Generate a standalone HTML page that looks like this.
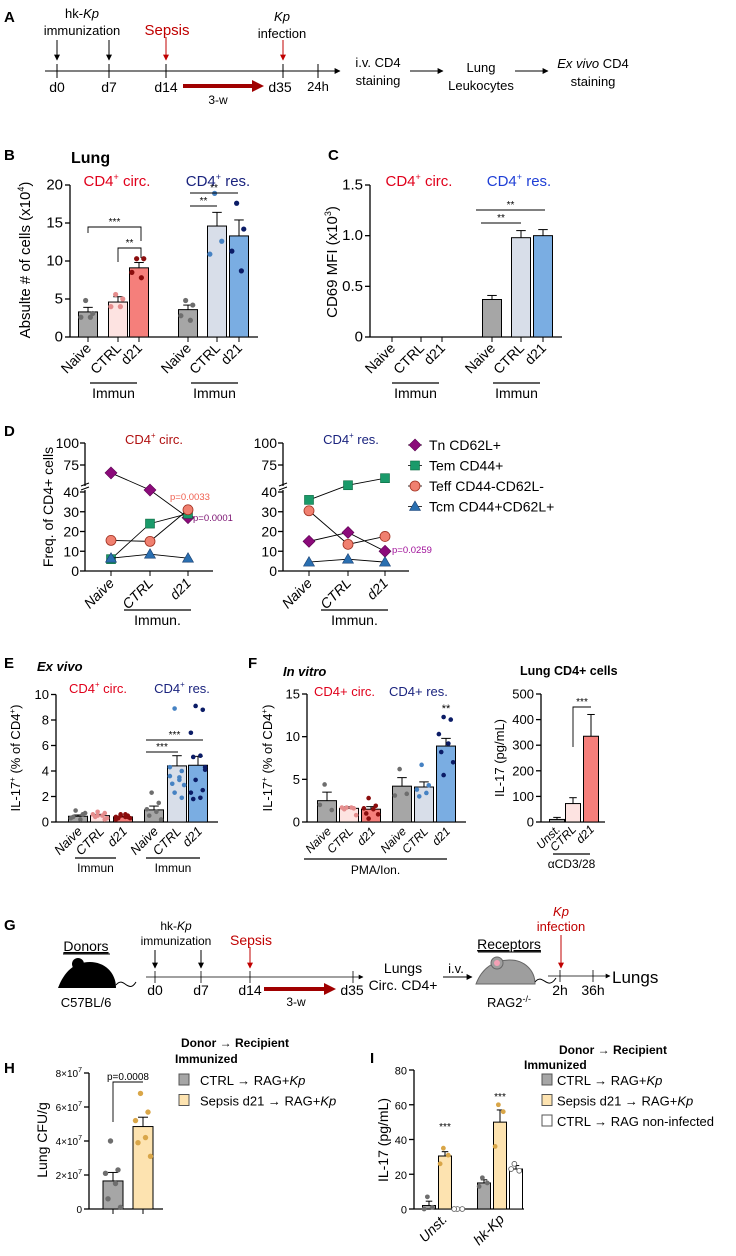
<!DOCTYPE html>
<html><head><meta charset="utf-8">
<style>
html,body{margin:0;padding:0;background:#fff}
svg{display:block;font-family:"Liberation Sans",sans-serif}
text{fill:#000}
</style></head>
<body>
<svg id="fig" width="736" height="1256" viewBox="0 0 736 1256" xmlns="http://www.w3.org/2000/svg">
<defs>
<marker id="ah" viewBox="0 0 10 10" refX="9" refY="5" markerWidth="6" markerHeight="6" orient="auto"><path d="M0,0L10,5L0,10z" fill="#000"/></marker>
<marker id="ahr" viewBox="0 0 10 10" refX="9" refY="5" markerWidth="6" markerHeight="6" orient="auto"><path d="M0,0L10,5L0,10z" fill="#c00000"/></marker>
<marker id="ahb" viewBox="0 0 10 10" refX="5" refY="5" markerWidth="3" markerHeight="3" orient="auto"><path d="M0,0L10,5L0,10z" fill="#a00000"/></marker>
</defs>

<!-- Panel A -->
<g font-size="13">
<text x="4" y="22" font-weight="bold" font-size="15">A</text>
<line x1="45" y1="71" x2="340" y2="71" stroke="#000" marker-end="url(#ah)"/>
<g stroke="#000"><line x1="57" y1="64" x2="57" y2="78"/><line x1="109" y1="64" x2="109" y2="78"/><line x1="166" y1="64" x2="166" y2="78"/><line x1="283" y1="64" x2="283" y2="78"/><line x1="318" y1="64" x2="318" y2="78"/></g>
<line x1="57" y1="40" x2="57" y2="60" stroke="#000" marker-end="url(#ah)"/>
<line x1="109" y1="40" x2="109" y2="60" stroke="#000" marker-end="url(#ah)"/>
<line x1="166" y1="37" x2="166" y2="60" stroke="#c00000" marker-end="url(#ahr)"/>
<line x1="283" y1="40" x2="283" y2="60" stroke="#c00000" marker-end="url(#ahr)"/>
<text x="82" y="18" text-anchor="middle">hk-<tspan font-style="italic">Kp</tspan></text>
<text x="82" y="35" text-anchor="middle">immunization</text>
<text x="167" y="35" text-anchor="middle" fill="#c00000" style="fill:#c00000" font-size="15">Sepsis</text>
<text x="282" y="21" text-anchor="middle" font-style="italic">Kp</text>
<text x="282" y="38" text-anchor="middle">infection</text>
<text x="57" y="92" text-anchor="middle" font-size="14">d0</text>
<text x="109" y="92" text-anchor="middle" font-size="14">d7</text>
<text x="166" y="92" text-anchor="middle" font-size="14">d14</text>
<text x="280" y="92" text-anchor="middle" font-size="14">d35</text>
<text x="318" y="91" text-anchor="middle">24h</text>
<line x1="183" y1="86" x2="258" y2="86" stroke="#a00000" stroke-width="4" marker-end="url(#ahb)"/>
<text x="218" y="104" text-anchor="middle" font-size="12">3-w</text>
<text x="378" y="67" text-anchor="middle">i.v. CD4</text><text x="378" y="85" text-anchor="middle">staining</text>
<line x1="410" y1="71" x2="443" y2="71" stroke="#000" marker-end="url(#ah)"/>
<text x="481" y="72" text-anchor="middle">Lung</text><text x="481" y="90" text-anchor="middle">Leukocytes</text>
<line x1="515" y1="71" x2="548" y2="71" stroke="#000" marker-end="url(#ah)"/>
<text x="593" y="68" text-anchor="middle"><tspan font-style="italic">Ex vivo</tspan> CD4</text><text x="593" y="86" text-anchor="middle">staining</text>
</g>

<g id="charts"></g>

<!-- Panel G -->
<g font-size="13">
<text x="4" y="930" font-weight="bold" font-size="15">G</text>
<text x="86" y="951" text-anchor="middle" font-size="14" text-decoration="underline">Donors</text>
<line x1="63" y1="954" x2="110" y2="954" stroke="#000"/>
<g>
<path d="M58,988 C64,972 74,962 90,962 C104,962 116,972 116,988 Z" fill="#000"/>
<circle cx="78" cy="964" r="6" fill="#000"/><circle cx="62" cy="986" r="2" fill="#000"/>
<path d="M116,985 C124,975 128,995 136,982" stroke="#000" fill="none"/>
</g>
<text x="86" y="1007" text-anchor="middle">C57BL/6</text>
<line x1="146" y1="977" x2="363" y2="977" stroke="#000" stroke-width="0.8" marker-end="url(#ah)"/>
<g stroke="#000" stroke-width="0.8"><line x1="155" y1="971" x2="155" y2="983"/><line x1="201" y1="971" x2="201" y2="983"/><line x1="250" y1="971" x2="250" y2="983"/><line x1="353" y1="971" x2="353" y2="983"/></g>
<line x1="155" y1="950" x2="155" y2="968" stroke="#000" marker-end="url(#ah)"/>
<line x1="201" y1="950" x2="201" y2="968" stroke="#000" marker-end="url(#ah)"/>
<line x1="250" y1="947" x2="250" y2="968" stroke="#c00000" marker-end="url(#ahr)"/>
<text x="176" y="930" text-anchor="middle" font-size="12">hk-<tspan font-style="italic">Kp</tspan></text>
<text x="176" y="945" text-anchor="middle" font-size="12">immunization</text>
<text x="251" y="945" text-anchor="middle" style="fill:#c00000" font-size="14">Sepsis</text>
<text x="155" y="995" text-anchor="middle" font-size="14">d0</text>
<text x="201" y="995" text-anchor="middle" font-size="14">d7</text>
<text x="250" y="995" text-anchor="middle" font-size="14">d14</text>
<text x="352" y="995" text-anchor="middle" font-size="14">d35</text>
<line x1="264" y1="989" x2="330" y2="989" stroke="#a00000" stroke-width="4" marker-end="url(#ahb)"/>
<text x="296" y="1006" text-anchor="middle" font-size="12">3-w</text>
<text x="403" y="973" text-anchor="middle" font-size="14">Lungs</text>
<text x="403" y="990" text-anchor="middle" font-size="14">Circ. CD4+</text>
<text x="456" y="973" text-anchor="middle">i.v.</text>
<line x1="443" y1="977" x2="472" y2="977" stroke="#000" marker-end="url(#ah)"/>
<text x="509" y="949" text-anchor="middle" font-size="14" text-decoration="underline">Receptors</text>
<line x1="478" y1="952" x2="541" y2="952" stroke="#000"/>
<g>
<path d="M476,984 C482,968 494,960 510,960 C524,960 535,970 535,984 Z" fill="#9e9e9e" stroke="#666"/>
<circle cx="497" cy="963" r="6" fill="#9e9e9e" stroke="#666"/><circle cx="497" cy="963" r="3" fill="#f3a0b5"/>
<path d="M535,982 C543,972 547,992 556,978" stroke="#000" fill="none"/>
</g>
<text x="509" y="1007" text-anchor="middle">RAG2<tspan font-size="9" dy="-5">-/-</tspan></text>
<text x="561" y="916" text-anchor="middle" font-style="italic" style="fill:#c00000">Kp</text>
<text x="561" y="931" text-anchor="middle" style="fill:#c00000">infection</text>
<line x1="561" y1="935" x2="561" y2="968" stroke="#c00000" marker-end="url(#ahr)"/>
<line x1="548" y1="976" x2="610" y2="976" stroke="#000" stroke-width="0.8" marker-end="url(#ah)"/>
<line x1="560" y1="970" x2="560" y2="982" stroke="#000" stroke-width="0.8"/><line x1="593" y1="970" x2="593" y2="982" stroke="#000" stroke-width="0.8"/>
<text x="560" y="995" text-anchor="middle" font-size="14">2h</text>
<text x="593" y="995" text-anchor="middle" font-size="14">36h</text>
<text x="612" y="983" font-size="17">Lungs</text>
</g>
</svg>

<script>
// ===== Data =====
const bCategories = ["Naive","CTRL","d21","Naive","CTRL","d21"];
const bMeans = [3.3, 4.6, 9.1, 3.6, 14.6, 13.3];
const bErrors = [0.6, 0.7, 0.7, 0.6, 1.8, 2.1];
const bDots = [[4.8,3.1,2.6,2.6],[5.6,5.0,4.0,4.0],[10.3,10.3,8.5,7.8],[4.8,4.2,2.8,2.2],[18.9,12.6,10.9],[17.6,14.2,11.3,8.7]];
const bTicks = [0,5,10,15,20];

const cMeans = [0, 0, 0, 0.37, 0.98, 1.0];
const cErrors = [0, 0, 0, 0.04, 0.07, 0.06];
const cTicks = [0, 0.5, 1.0, 1.5];
const cTickLabels = ["0","0.5","1.0","1.5"];

const dTicks = [0,10,20,30,40,75,100];
const dCatLabels = ["Naive","CTRL","d21"];
const dCircTn = [66, 41, 27];
const dCircTem = [6, 24, 29];
const dCircTeff = [15.5, 15, 31];
const dCircTcm = [6.5, 8.5, 6.5];
const dResTn = [15, 19.5, 10];
const dResTem = [36, 52, 60];
const dResTeff = [30.5, 13.5, 17.5];
const dResTcm = [4.5, 6, 4.5];
const dSeriesNames = ["Tn CD62L+","Tem CD44+","Teff CD44-CD62L-","Tcm CD44+CD62L+"];

const eMeans = [0.45, 0.5, 0.4, 0.95, 4.4, 4.45];
const eErrors = [0.1, 0.1, 0.05, 0.3, 0.8, 0.7];
const eDots = [[0.9,0.6,0.3,0.2,0.4,0.7],[0.8,0.7,0.6,0.5,0.4,0.3,0.5,0.2],[0.6,0.5,0.4,0.4,0.3,0.3,0.5,0.4,0.2,0.6],[2.3,1.5,1.0,0.8,0.5,0.2],[8.9,4.0,3.6,3.5,3.0,2.9,2.3,1.9,4.3,3.3],[9.1,8.8,7.0,5.2,5.1,4.1,3.3,2.5,2.3,1.9,1.8,4.3]];
const eTicks = [0,2,4,6,8,10];

const fMeans = [2.5, 1.6, 1.5, 4.2, 4.1, 8.9];
const fErrors = [1.0, 0.2, 0.3, 1.0, 0.6, 0.9];
const fDots = [[4.4,1.4,2.0],[1.7,1.6,1.7,1.7,1.5,0.8],[2.8,1.9,1.6,1.5,1.0,0.9,0.4],[6.2,3.3,3.1],[6.7,4.3,3.8,3.4,3.0],[12.3,12.0,10.3,9.2,8.2,7.0,5.5]];
const fTicks = [0,5,10,15];
const f2Cats = ["Unst.","CTRL","d21"];
const f2Means = [10, 72, 335];
const f2Errors = [8, 23, 85];
const f2Ticks = [0,100,200,300,400,500];

const hMeans = [1.65e7, 4.85e7];
const hErrors = [0.5e7, 0.55e7];
const hDots = [[4.0e7,2.3e7,2.1e7,1.5e7,0.6e7,0.1e7],[6.8e7,5.7e7,5.2e7,4.2e7,3.9e7,3.1e7]];
const hTicks = [0,2e7,4e7,6e7,8e7];
const hTickLabels = ["0","2×10","4×10","6×10","8×10"];

const iMeans = [2, 30.5, 0, 15, 50, 23];
const iErrors = [2.5, 2.5, 0, 1.8, 7, 2];
const iDots = [[7,1,0],[35,31,26],[0,0,0],[18,15,13],[60,56,36],[26,22,23]];
const iTicks = [0,20,40,60,80];

// ===== Helpers =====
const NS = "http://www.w3.org/2000/svg";
const root = document.getElementById('charts');
function el(tag, attrs, parent, txt){
  const e = document.createElementNS(NS, tag);
  for (const k in attrs) e.setAttribute(k, attrs[k]);
  if (txt !== undefined) e.textContent = txt;
  (parent || root).appendChild(e);
  return e;
}
function txt(x,y,s,opts,parent){
  const o = Object.assign({x:x,y:y,'font-size':12},opts||{});
  const t = el('text',o,parent,s);
  return t;
}
function linearScale(d0,d1,r0,r1){ return v => r0 + (v-d0)*(r1-r0)/(d1-d0); }

function yAxis(g, x, y, ticks, labels, fs){
  el('line',{x1:x,y1:y(ticks[0]),x2:x,y2:y(ticks[ticks.length-1]),stroke:'#000','stroke-width':1.3},g);
  ticks.forEach((t,i)=>{
    const yy = y(t);
    el('line',{x1:x-5,y1:yy,x2:x,y2:yy,stroke:'#000','stroke-width':1.3},g);
    const lab = txt(x-7, yy+4.5, labels?labels[i]:String(t), {'text-anchor':'end','font-size':fs||14}, g);
    
    
  });
}
function rotLabel(g,x,y,s,fs,italic){
  const t = txt(x,y,s,{'text-anchor':'end','font-size':fs||13,transform:`rotate(-45 ${x} ${y})`,'font-style':italic?'italic':'normal'},g);
  
  
  return t;
}
function bars(g, xs, w, y, means, errs, fills, strokes, dotsArr, dotCols, name, dotR){
  xs.forEach((cx,i)=>{
    const top = y(means[i]), base = y(0);
    const r = el('rect',{x:cx-w/2,y:top,width:w,height:Math.max(0,base-top),fill:fills[i],stroke:strokes?strokes[i]:'#000','stroke-width':1},g);
    
    
    if (errs && errs[i]>0){
      const ye = y(means[i]+errs[i]);
      el('line',{x1:cx,y1:top,x2:cx,y2:ye,stroke:'#000'},g);
      el('line',{x1:cx-w/4,y1:ye,x2:cx+w/4,y2:ye,stroke:'#000'},g);
    }
    if (dotsArr){
      const d = dotsArr[i], n = d.length;
      d.forEach((v,j)=>{
        const off = n>1 ? (j%2===0?-1:1)*((j%3)+1)*w/8 : 0;
        const c = el('circle',{cx:cx+off,cy:y(v),r:dotR||2.6,fill:dotCols[i]},g);
        
        
      });
    }
  });
}
function bracket(g,x1,x2,yy,s,drop1,drop2){
  el('path',{d:`M${x1},${yy+(drop1||0)}V${yy}H${x2}V${yy+(drop2||0)}`,fill:'none',stroke:'#000','stroke-width':0.9},g);
  txt((x1+x2)/2, yy-2, s, {'text-anchor':'middle','font-size':10},g);
}
function underline(g,x1,x2,yy,s,ty,fs){
  el('line',{x1:x1,y1:yy,x2:x2,y2:yy,stroke:'#000','stroke-width':1.2},g);
  txt((x1+x2)/2, ty, s, {'text-anchor':'middle','font-size':fs||13},g);
}
function colored(g,x,y,main,sup,rest,color,fs,anchor){
  const t = el('text',{x:x,y:y,'font-size':fs||15,'text-anchor':anchor||'middle',style:'fill:'+color},g);
  el('tspan',{},t,main);
  if (sup) el('tspan',{dy:-6,'font-size':(fs||15)*0.6},t,sup);
  el('tspan',{dy:sup?6:0},t,rest);
  return t;
}

const GRAY='#a6a6a6', GDOT='#6e6e6e', PINK='#fde3e1', PDOT='#e58d8d', SAL='#f57f7b', SDOT='#8b0d0d',
      LB='#d8dee9', LBDOT='#4682c3', BL='#7aade2', BLDOT='#0b1c66', RED='#e0001b', NAVY='#1a237e';

// ===== Panel B =====
{
  const g = el('g',{});
  
  
  txt(4,160,'B',{'font-weight':'bold','font-size':15},g);
  txt(71,163,'Lung',{'font-weight':'bold','font-size':16},g);
  colored(g,117,186,'CD4','+',' circ.',RED,15);
  colored(g,218,186,'CD4','+',' res.',NAVY,15);
  const y = linearScale(0,20,337,185);
  yAxis(g,70,y,bTicks,null,15);
  el('line',{x1:70,y1:337,x2:258,y2:337,stroke:'#000','stroke-width':1.3},g);
  const xs=[88,118,139,188,217,239];
  xs.forEach(x=>el('line',{x1:x,y1:337,x2:x,y2:342,stroke:'#000'},g));
  bars(g,xs,19,y,bMeans,bErrors,[GRAY,PINK,SAL,GRAY,LB,BL],null,bDots,[GDOT,PDOT,SDOT,GDOT,LBDOT,BLDOT],'b');
  const at = document.createElementNS(NS,'text');
  at.setAttribute('transform','rotate(-90 30 260)'); at.setAttribute('x',30); at.setAttribute('y',260);
  at.setAttribute('text-anchor','middle'); at.setAttribute('font-size',15);
  at.innerHTML='Absulte # of cells (x10<tspan dy="-6" font-size="9">4</tspan><tspan dy="6">)</tspan>';
   
  g.appendChild(at);
  bracket(g,88,141,227,'***',6,14);
  bracket(g,118,141,248,'**',14,10);
  bracket(g,190,238,193,'**');
  bracket(g,190,217,206,'**');
  bCategories.forEach((c,i)=>rotLabel(g,xs[i]+4,349,c,14));
  underline(g,90,137,383,'Immun',398,14);
  underline(g,191,238,383,'Immun',398,14);
}
// ===== Panel C =====
{
  const g = el('g',{});
  
  
  txt(328,160,'C',{'font-weight':'bold','font-size':15},g);
  colored(g,419,186,'CD4','+',' circ.',RED,15);
  colored(g,519,186,'CD4','+',' res.','#1f3fd6',15);
  const y = linearScale(0,1.5,337,185);
  yAxis(g,370,y,cTicks,cTickLabels,15);
  el('line',{x1:370,y1:337,x2:562,y2:337,stroke:'#000','stroke-width':1.3},g);
  const xs=[392,421,442,492,521,543];
  xs.forEach(x=>el('line',{x1:x,y1:337,x2:x,y2:342,stroke:'#000'},g));
  bars(g,xs,19,y,cMeans,cErrors,[GRAY,PINK,SAL,GRAY,LB,BL],['none','none','none','#000','#000','#000'],null,null,'c');
  const at = document.createElementNS(NS,'text');
  at.setAttribute('transform','rotate(-90 337 262)'); at.setAttribute('x',337); at.setAttribute('y',262);
  at.setAttribute('text-anchor','middle'); at.setAttribute('font-size',15);
  at.innerHTML='CD69 MFI (x10<tspan dy="-6" font-size="9">3</tspan><tspan dy="6">)</tspan>';
   
  g.appendChild(at);
  bracket(g,476,545,210,'**');
  bracket(g,481,521,223,'**');
  bCategories.forEach((c,i)=>rotLabel(g,xs[i]+4,349,c,14));
  underline(g,392,439,383,'Immun',398,14);
  underline(g,493,540,383,'Immun',398,14);
}
// ===== Panel D =====
{
  const g = el('g',{});
  
  
  txt(4,436,'D',{'font-weight':'bold','font-size':15},g);
  const yLow = linearScale(0,40,571,492), yHigh = linearScale(75,100,465,443);
  const y = v => v<=42 ? yLow(v) : yHigh(v);
  const cols = ['#8b0a7a','#1a9a6a','#f08070','#2a6fb0'];
  const edge = ['#5a0050','#0a6a40','#a03020','#1a3f70'];
  function sub(ax, x0, x1, xs, series, title, tcol){
    colored(g,(x0+x1)/2+5,444,'CD4','+',title,tcol,13);
    el('line',{x1:ax,y1:571,x2:ax,y2:490,stroke:'#000','stroke-width':1.3},g);
    el('line',{x1:ax,y1:486,x2:ax,y2:443,stroke:'#000','stroke-width':1.3},g);
    el('line',{x1:ax-4,y1:490,x2:ax+4,y2:487,stroke:'#000'},g);
    el('line',{x1:ax-4,y1:486,x2:ax+4,y2:483,stroke:'#000'},g);
    dTicks.forEach(t=>{
      el('line',{x1:ax-5,y1:y(t),x2:ax,y2:y(t),stroke:'#000','stroke-width':1.3},g);
      const l = txt(ax-6,y(t)+5,String(t),{'text-anchor':'end','font-size':14},g);
      
      
    });
    el('line',{x1:ax,y1:571,x2:x1,y2:571,stroke:'#000','stroke-width':1.3},g);
    xs.forEach((x,i)=>{el('line',{x1:x,y1:571,x2:x,y2:576,stroke:'#000'},g); rotLabel(g,x+4,584,dCatLabels[i],14,true);});
    series.forEach((s,k)=>{
      const pts = s.map((v,i)=>`${xs[i]},${y(v)}`).join(' ');
      const pl = el('polyline',{points:pts,fill:'none',stroke:'#000','stroke-width':0.9},g);
      
      
      s.forEach((v,i)=>{
        const cx=xs[i], cy=y(v);
        el('line',{x1:cx,y1:cy-4,x2:cx,y2:cy+4,stroke:'#000','stroke-width':0.8},g);
        marker(cx,cy,k,g);
      });
    });
  }
  function marker(cx,cy,k,par){
    let m;
    if(k===0) m=el('path',{d:`M${cx},${cy-6}L${cx+6},${cy}L${cx},${cy+6}L${cx-6},${cy}Z`,fill:cols[0],stroke:edge[0],'stroke-width':0.6},par);
    else if(k===1) m=el('rect',{x:cx-4.5,y:cy-4.5,width:9,height:9,fill:cols[1],stroke:edge[1],'stroke-width':0.6},par);
    else if(k===2) m=el('circle',{cx:cx,cy:cy,r:5,fill:cols[2],stroke:edge[2],'stroke-width':0.8},par);
    else m=el('path',{d:`M${cx},${cy-5.5}L${cx+5.5},${cy+4}L${cx-5.5},${cy+4}Z`,fill:cols[3],stroke:edge[3],'stroke-width':0.6},par);
    
    
  }
  sub(85,85,213,[111,150,188],[dCircTn,dCircTem,dCircTeff,dCircTcm],' circ.','#b01010');
  sub(283,283,409,[309,348,385],[dResTn,dResTem,dResTeff,dResTcm],' res.',NAVY);
  const at = txt(53,507,'Freq. of CD4+ cells',{'text-anchor':'middle','font-size':14,transform:'rotate(-90 53 507)'},g);
   
  underline(g,124,191,610,'Immun.',625,14);
  underline(g,321,388,610,'Immun.',625,14);
  txt(170,500,'p=0.0033',{'font-size':9.5,style:'fill:#f06050'},g);
  txt(193,521,'p=0.0001',{'font-size':9.5,style:'fill:#7a1070'},g);
  txt(392,553,'p=0.0259',{'font-size':9.5,style:'fill:#a0109a'},g);
  dSeriesNames.forEach((n,k)=>{
    const yy = 445 + k*20.5;
    el('line',{x1:408,y1:yy,x2:422,y2:yy,stroke:'#000','stroke-width':0.8},g);
    marker(415,yy,k,g);
    const l = txt(429,yy+5,n,{'font-size':14},g);
    
    
  });
}
// ===== Panel E =====
{
  const g = el('g',{});
  
  
  txt(4,668,'E',{'font-weight':'bold','font-size':15},g);
  txt(37,671,'Ex vivo',{'font-weight':'bold','font-style':'italic','font-size':13},g);
  colored(g,98,693,'CD4','+',' circ.',RED,13);
  colored(g,182,693,'CD4','+',' res.',NAVY,13);
  const y = linearScale(0,10,822,694.5);
  yAxis(g,56,y,eTicks,null,13);
  el('line',{x1:56,y1:822,x2:218,y2:822,stroke:'#000','stroke-width':1.3},g);
  const xs=[78,100,123,154,177,198];
  bars(g,xs,19,y,eMeans,eErrors,[GRAY,PINK,SAL,GRAY,LB,BL],null,eDots,[GDOT,PDOT,SDOT,GDOT,LBDOT,BLDOT],'e',2.3);
  const at = document.createElementNS(NS,'text');
  at.setAttribute('transform','rotate(-90 20 758)'); at.setAttribute('x',20); at.setAttribute('y',758);
  at.setAttribute('text-anchor','middle'); at.setAttribute('font-size',13);
  at.innerHTML='IL-17<tspan dy="-5" font-size="8">+</tspan><tspan dy="5"> (% of CD4</tspan><tspan dy="-5" font-size="8">+</tspan><tspan dy="5">)</tspan>';
   
  g.appendChild(at);
  bracket(g,146,178,752,'***');
  bracket(g,146,203,740,'***');
  bCategories.forEach((c,i)=>rotLabel(g,xs[i]+5,832,c,13,true));
  underline(g,75,116,858,'Immun',872,12);
  underline(g,146,200,858,'Immun',872,12);
}
// ===== Panel F =====
{
  const g = el('g',{});
  
  
  txt(248,668,'F',{'font-weight':'bold','font-size':15},g);
  txt(283,676,'In vitro',{'font-weight':'bold','font-style':'italic','font-size':13},g);
  txt(314,696,'CD4+ circ.',{'font-size':13,style:'fill:'+RED},g);
  txt(389,696,'CD4+ res.',{'font-size':13,style:'fill:'+NAVY},g);
  const y = linearScale(0,15,822,694);
  yAxis(g,307,y,fTicks,null,13);
  el('line',{x1:307,y1:822,x2:466,y2:822,stroke:'#000','stroke-width':1.3},g);
  const xs=[327,349,371,402,424,446];
  bars(g,xs,19,y,fMeans,fErrors,[GRAY,PINK,SAL,GRAY,LB,BL],null,fDots,[GDOT,PDOT,SDOT,GDOT,LBDOT,BLDOT],'f',2.3);
  const at = document.createElementNS(NS,'text');
  at.setAttribute('transform','rotate(-90 272 758)'); at.setAttribute('x',272); at.setAttribute('y',758);
  at.setAttribute('text-anchor','middle'); at.setAttribute('font-size',13);
  at.innerHTML='IL-17<tspan dy="-5" font-size="8">+</tspan><tspan dy="5"> (% of CD4</tspan><tspan dy="-5" font-size="8">+</tspan><tspan dy="5">)</tspan>';
   
  g.appendChild(at);
  txt(446,712,'**',{'text-anchor':'middle','font-size':11},g);
  bCategories.forEach((c,i)=>rotLabel(g,xs[i]+5,832,c,12,true));
  underline(g,304,447,859,'PMA/Ion.',874,12);

  txt(520,675,'Lung CD4+ cells',{'font-weight':'bold','font-size':12.5},g);
  const y2 = linearScale(0,500,822,694);
  yAxis(g,541,y2,f2Ticks,null,13);
  el('line',{x1:541,y1:822,x2:605,y2:822,stroke:'#000','stroke-width':1.3},g);
  const xs2=[557,573,591];
  bars(g,xs2,15,y2,f2Means,f2Errors,[GRAY,PINK,SAL],null,null,null,'f2');
  const at2 = txt(504,758,'IL-17 (pg/mL)',{'text-anchor':'middle','font-size':13,transform:'rotate(-90 504 758)'},g);
   
  bracket(g,573,591,707,'***',40,0);
  f2Cats.forEach((c,i)=>rotLabel(g,xs2[i]+4,830,c,12,true));
  underline(g,553,590,854,'αCD3/28',868,12);
}
// ===== Panel H =====
{
  const g = el('g',{});
  
  
  txt(4,1073,'H',{'font-weight':'bold','font-size':15},g);
  const y = linearScale(0,8e7,1209,1073);
  el('line',{x1:89,y1:1209,x2:89,y2:1073,stroke:'#000','stroke-width':1.3},g);
  hTicks.forEach((t,i)=>{
    el('line',{x1:84,y1:y(t),x2:89,y2:y(t),stroke:'#000','stroke-width':1.3},g);
    const l = el('text',{x:82,y:y(t)+4,'text-anchor':'end','font-size':10},g);
    
    
    el('tspan',{},l,hTickLabels[i]);
    if(i>0) el('tspan',{dy:-5,'font-size':7},l,'7');
  });
  el('line',{x1:89,y1:1209,x2:163,y2:1209,stroke:'#000','stroke-width':1.3},g);
  const xs=[113,143];
  xs.forEach(x=>el('line',{x1:x,y1:1209,x2:x,y2:1214,stroke:'#000'},g));
  bars(g,xs,20,y,hMeans,hErrors,[GRAY,'#fde3b0'],null,hDots,[GDOT,'#d9a648'],'h',2.7);
  const at = txt(47,1140,'Lung CFU/g',{'text-anchor':'middle','font-size':14,transform:'rotate(-90 47 1140)'},g);
   
  bracket(g,113,143,1082,'p=0.0008',40,0);
  txt(235,1047,'Donor → Recipient',{'text-anchor':'middle','font-weight':'bold','font-size':12},g);
  txt(175,1063,'Immunized',{'font-weight':'bold','font-size':12},g);
  [['CTRL → RAG+',GRAY],['Sepsis d21 → RAG+','#fde3b0']].forEach((d,i)=>{
    const yy=1080+i*20.5;
    el('rect',{x:179,y:yy-6,width:10,height:11,fill:d[1],stroke:'#555'},g);
    const l = txt(200,yy+5,d[0],{'font-size':13},g);
    el('tspan',{'font-style':'italic'},l,'Kp');
    
    
  });
}
// ===== Panel I =====
{
  const g = el('g',{});
  
  
  txt(370,1063,'I',{'font-weight':'bold','font-size':15},g);
  const y = linearScale(0,80,1209,1070);
  yAxis(g,414,y,iTicks,null,11);
  el('line',{x1:414,y1:1209,x2:524,y2:1209,stroke:'#000','stroke-width':1.3},g);
  const xs=[429,445,459,484,500,516];
  bars(g,xs,13,y,iMeans,iErrors,[GRAY,'#fde3b0','#fff',GRAY,'#fde3b0','#fff'],null,iDots,[GDOT,'#d9a648','#fff',GDOT,'#d9a648','#fff'],'i',2.4);
  g.querySelectorAll('circle').forEach(c=>{ if(c.getAttribute('fill')==='#fff'){c.setAttribute('stroke','#555');c.setAttribute('stroke-width','0.8');}});
  const at = txt(388,1140,'IL-17 (pg/mL)',{'text-anchor':'middle','font-size':14,transform:'rotate(-90 388 1140)'},g);
   
  txt(445,1130,'***',{'text-anchor':'middle','font-size':10},g);
  txt(500,1100,'***',{'text-anchor':'middle','font-size':10},g);
  rotLabel(g,448,1220,'Unst.',14,true);
  rotLabel(g,505,1220,'hk-Kp',14,true);
  txt(613,1054,'Donor → Recipient',{'text-anchor':'middle','font-weight':'bold','font-size':12},g);
  txt(524,1069,'Immunized',{'font-weight':'bold','font-size':12},g);
  [['CTRL → RAG+',GRAY,'Kp'],['Sepsis d21 → RAG+','#fde3b0','Kp'],['CTRL → RAG non-infected','#fff','']].forEach((d,i)=>{
    const yy=1080+i*20.5;
    el('rect',{x:542,y:yy-6,width:10,height:11,fill:d[1],stroke:'#555'},g);
    const l = txt(557,yy+5,d[0],{'font-size':13},g);
    if(d[2]) el('tspan',{'font-style':'italic'},l,d[2]);
    
    
  });
}
</script>
</body></html>
